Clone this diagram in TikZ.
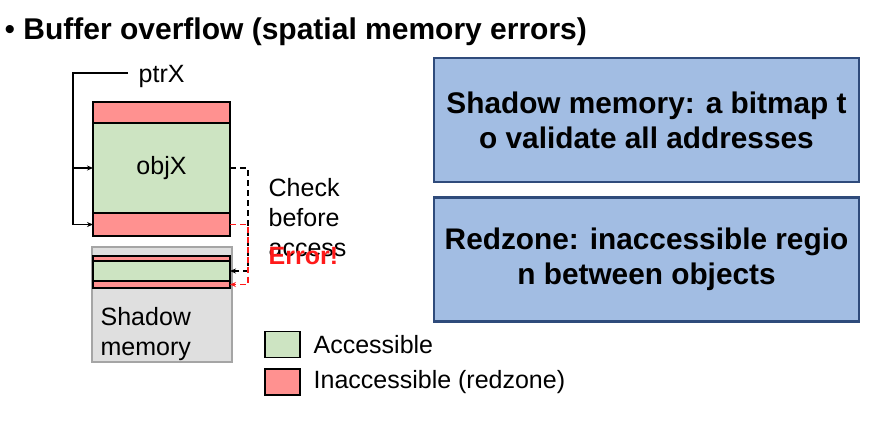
\documentclass[tikz,border=0pt]{standalone}
\usepackage{fontspec}
\setmainfont{Liberation Sans}
\usetikzlibrary{arrows.meta, positioning, calc}
\definecolor{okgreen}{HTML}{CDE4C2}
\definecolor{rzred}{HTML}{FF9190}
\definecolor{shgray}{HTML}{DFDFDF}
\definecolor{shedge}{HTML}{A5A5A5}
\definecolor{notefill}{HTML}{A2BDE3}
\definecolor{noteedge}{HTML}{2F4B7B}
\definecolor{errred}{HTML}{FF1A1A}

\tikzset{
  cell/.style={draw=black, line width=1.8pt, inner sep=0pt, outer sep=0pt, minimum width=137pt},
  okcell/.style={cell, fill=okgreen},
  rzcell/.style={cell, fill=rzred},
  note/.style={draw=noteedge, fill=notefill, line width=2.5pt, minimum width=425pt, minimum height=124pt,
    align=center, font=\fontsize{29.8}{35}\selectfont\bfseries},
  body/.style={font=\fontsize{25}{30}\selectfont, inner sep=0pt},
  check/.style={->, line width=1.5pt, dash pattern=on 6pt off 4pt}
}

\begin{document}
\begin{tikzpicture}[x=1pt, y=-1pt, >={Stealth[length=6pt, width=5pt]}, line width=1.3pt]

\useasboundingbox (0,0) rectangle (894,426);

% Title
\node[font=\fontsize{30}{34}\selectfont\bfseries, anchor=west, inner sep=0pt] (title) at (4,32)
  {\textmd{\textbullet}\ Buffer overflow (spatial memory errors)};

% --- object with redzones ---
\node[rzcell, minimum height=21pt] (objtop) at (161.5,112.5) {};
\node[okcell, minimum height=90pt, body] (objX) at (161.5,168) {objX};
\node[rzcell, minimum height=23pt] (objbot) at (161.5,224.5) {};

% pointer
\node[body, anchor=west] (ptrX) at (138,76) {ptrX};
\coordinate (rail) at (73,73);
\draw[->] ($(ptrX.west)+(-10,-3)$) -- (rail) |- (objbot.west);
\draw[->] (rail |- objX.west) -- (objX.west);

% --- shadow memory ---
\node[draw=shedge, fill=shgray, line width=1.5pt, minimum width=140pt, minimum height=115pt, inner sep=0pt] (shadow) at (162,304.5) {};
\node[rzcell, minimum height=5pt] (shtop) at (161.5,258.5) {};
\node[okcell, minimum height=20pt] (shgreen) at (161.5,271) {};
\node[rzcell, minimum height=7pt] (shbot) at (161.5,284.5) {};
\node[body, anchor=north west, align=left] (shlabel) at (100,307) {Shadow\\memory};

% check arrows
\draw[check] (objX.east) -- ++(18,0) |- (shgreen.east);
\draw[check, errred] (objbot.east) -- ++(18,0) |- (shbot.east);
\node[body, anchor=north west, align=left] (check) at (268,178) {Check\\before\\access};
\node[font=\fontsize{25}{30}\selectfont\bfseries, text=errred, anchor=west, inner sep=0pt] (error) at (268,256) {Error!};

% --- notes ---
\node[note] (shnote) at (646.5,120) {Shadow memory: a bitmap t\\o validate all addresses};
\node[note] (rznote) at (646.5,259.5) {Redzone: inaccessible regio\\n between objects};

% --- legend ---
\node[okcell, minimum width=35pt, minimum height=26pt] (keyok) at (282.5,344.5) {};
\node[rzcell, minimum width=35pt, minimum height=26pt] (keyrz) at (282.5,382) {};
\node[body, anchor=west] (keyoktxt) at (313,345) {Accessible};
\node[body, anchor=west] (keyrztxt) at (313,382) {Inaccessible (redzone)};

\end{tikzpicture}
\end{document}
